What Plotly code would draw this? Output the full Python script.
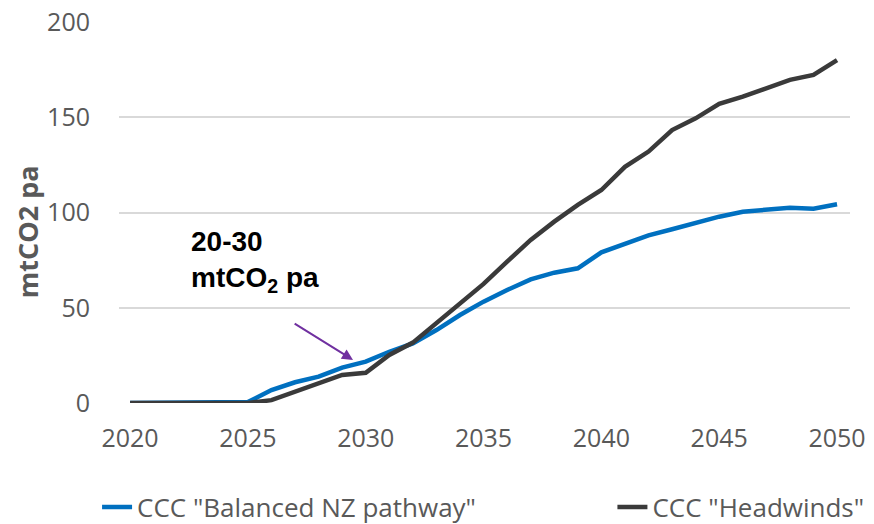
import plotly.graph_objects as go

years = list(range(2020, 2051))

# CCC "Balanced NZ pathway" (mtCO2 pa)
balanced = [0, 0, 0, 0, 0.2, 0.5, 6.8, 10.9, 13.8, 18.6, 21.7,
            26.9, 31.3, 38.3, 46.2, 53.2, 59.3, 64.9, 68.4, 70.7, 79.1,
            83.3, 88.0, 91.2, 94.6, 97.8, 100.4, 101.7, 102.5, 102.0, 104.3]

# CCC "Headwinds" (mtCO2 pa)
headwinds = [0, 0, 0, 0, 0, 0, 1.5, 5.9, 10.0, 14.7, 15.9,
             25.2, 31.7, 41.8, 52.3, 62.5, 74.2, 85.6, 95.2, 104.0, 111.8,
             124.0, 132.0, 143.3, 149.4, 157.0, 160.8, 165.2, 169.6, 172.2, 180.0]

series_names = ['CCC "Balanced NZ pathway"', 'CCC "Headwinds"']
y_ticks = [0, 50, 100, 150, 200]
x_ticks = [2020, 2025, 2030, 2035, 2040, 2045, 2050]

grey = "#595959"

fig = go.Figure()
fig.add_trace(go.Scatter(x=years, y=balanced, mode="lines", name=series_names[0],
                         line=dict(color="#0070C0", width=4.5), legend="legend"))
fig.add_trace(go.Scatter(x=years, y=headwinds, mode="lines", name=series_names[1],
                         line=dict(color="#3A3A3A", width=4.5), legend="legend2"))

# label + arrow pointing at the 2030 gap
fig.add_annotation(x=2022.5, y=74.5, xref="x", yref="y",
                   text="20-30<br>mtCO<sub>2</sub> pa", showarrow=False,
                   xanchor="left", yanchor="middle", align="left",
                   font=dict(family="Arial", size=28, color="black", weight="bold"))
fig.add_annotation(x=2029.46, y=22.6, ax=2026.92, ay=42.2,
                   xref="x", yref="y", axref="x", ayref="y",
                   text="", showarrow=True, arrowhead=2, arrowsize=1.1,
                   arrowwidth=2, arrowcolor="#7030A0")

# y axis title placed by hand (sits a little below plot centre)
fig.add_annotation(x=-0.125, y=0.45, xref="paper", yref="paper",
                   xanchor="center", yanchor="middle",
                   text="<b>mtCO2 pa</b>", textangle=-90, showarrow=False,
                   font=dict(family="Open Sans", size=27, color=grey))

legend_style = dict(orientation="h", xanchor="left", yanchor="middle", y=-0.273,
                    bgcolor="rgba(0,0,0,0)",
                    font=dict(family="Open Sans", size=26, color=grey))

# page body adds ~8px offset, so the figure is drawn 8px smaller
fig.update_layout(
    width=866, height=516,
    margin=dict(l=111, r=24, t=14, b=121, autoexpand=False),
    plot_bgcolor="white", paper_bgcolor="white",
    font=dict(family="Open Sans", size=25, color=grey),
    showlegend=True,
    legend=dict(x=-0.030, **legend_style),
    legend2=dict(x=0.675, **legend_style),
    xaxis=dict(range=[2019.53, 2050.55], tickvals=x_ticks, showgrid=False,
               zeroline=False, showline=False, ticklabelstandoff=18,
               ticklabeloverflow="allow"),
    yaxis=dict(range=[0, 200], tickvals=y_ticks, showgrid=True, gridcolor="#D9D9D9",
               gridwidth=1.5, zeroline=False, showline=False, ticklabelstandoff=28,
               ticklabeloverflow="allow"),
)

fig.write_html("out.html")
